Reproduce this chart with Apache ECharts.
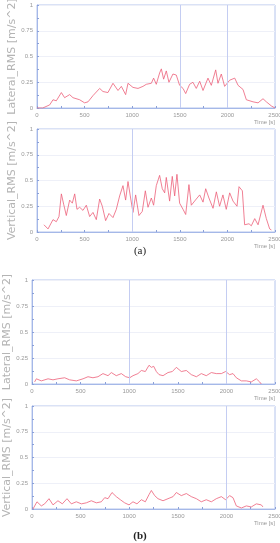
<!DOCTYPE html>
<html>
<head>
<meta charset="utf-8">
<script src="https://cdn.jsdelivr.net/npm/echarts@6/dist/echarts.min.js"></script>
<style>
    html, body { margin: 0; padding: 0; background: #fff; }
    #main { width: 280px; height: 543px; }
</style>
</head>
<body>
<div id="main"></div>
<script>
// x tick labels and y tick values
var xTicks = [0, 500, 1000, 1500, 2000, 2500];
var yTicks = [0, 0.25, 0.5, 0.75, 1];

// (a) lateral
var latA_t = [0, 60, 80, 133, 168, 203, 256, 290, 343, 378, 448, 500, 536, 588, 658, 693, 745, 798, 851, 886, 931, 956, 1008, 1061, 1113, 1148, 1201, 1225, 1253, 1288, 1306, 1330, 1358, 1386, 1428, 1463, 1498, 1534, 1562, 1603, 1638, 1673, 1709, 1744, 1796, 1831, 1877, 1901, 1936, 1971, 2024, 2077, 2112, 2164, 2199, 2269, 2322, 2374, 2409, 2462, 2500];
var latA_v = [0, 0, 0.01, 0.03, 0.08, 0.07, 0.15, 0.10, 0.13, 0.10, 0.08, 0.05, 0.06, 0.12, 0.19, 0.16, 0.15, 0.24, 0.17, 0.21, 0.13, 0.24, 0.20, 0.19, 0.21, 0.23, 0.24, 0.29, 0.23, 0.34, 0.38, 0.28, 0.36, 0.25, 0.33, 0.32, 0.22, 0.19, 0.14, 0.23, 0.25, 0.19, 0.26, 0.17, 0.29, 0.22, 0.37, 0.24, 0.33, 0.21, 0.27, 0.29, 0.22, 0.18, 0.08, 0.06, 0.05, 0.09, 0.06, 0.02, 0.00];

// (a) vertical
var verA_t = [73, 116, 168, 203, 231, 256, 280, 308, 343, 371, 396, 420, 448, 483, 518, 553, 588, 623, 658, 686, 721, 756, 798, 833, 868, 903, 931, 956, 980, 1008, 1036, 1071, 1106, 1138, 1166, 1201, 1225, 1253, 1288, 1316, 1341, 1358, 1393, 1421, 1446, 1470, 1498, 1534, 1562, 1596, 1621, 1673, 1709, 1744, 1772, 1806, 1849, 1884, 1918, 1953, 1988, 2024, 2059, 2101, 2122, 2157, 2181, 2227, 2251, 2287, 2322, 2374, 2409, 2444, 2462];
var verA_v = [0.07, 0.03, 0.12, 0.10, 0.15, 0.37, 0.27, 0.16, 0.31, 0.28, 0.37, 0.22, 0.24, 0.21, 0.26, 0.15, 0.19, 0.12, 0.32, 0.25, 0.11, 0.18, 0.14, 0.22, 0.35, 0.45, 0.31, 0.49, 0.35, 0.19, 0.36, 0.16, 0.20, 0.40, 0.24, 0.33, 0.26, 0.45, 0.55, 0.42, 0.38, 0.53, 0.30, 0.54, 0.35, 0.56, 0.28, 0.22, 0.17, 0.46, 0.26, 0.32, 0.36, 0.29, 0.42, 0.33, 0.23, 0.39, 0.25, 0.36, 0.22, 0.38, 0.30, 0.25, 0.44, 0.40, 0.07, 0.08, 0.06, 0.13, 0.07, 0.26, 0.13, 0.03, 0.02];

// (b) lateral
var latB_t = [27, 45, 96, 165, 216, 267, 336, 387, 456, 525, 576, 627, 679, 730, 782, 816, 867, 919, 964, 1005, 1039, 1090, 1125, 1166, 1204, 1228, 1252, 1279, 1307, 1348, 1399, 1444, 1485, 1536, 1588, 1639, 1691, 1742, 1793, 1845, 1896, 1948, 1992, 2033, 2068, 2102, 2154, 2205, 2256, 2308, 2342, 2359];
var latB_v = [0.02, 0.05, 0.03, 0.05, 0.04, 0.05, 0.06, 0.04, 0.03, 0.05, 0.07, 0.06, 0.07, 0.10, 0.08, 0.11, 0.08, 0.10, 0.07, 0.06, 0.08, 0.10, 0.13, 0.12, 0.18, 0.16, 0.17, 0.12, 0.09, 0.08, 0.11, 0.12, 0.16, 0.12, 0.13, 0.09, 0.07, 0.10, 0.08, 0.11, 0.10, 0.10, 0.12, 0.09, 0.10, 0.06, 0.03, 0.03, 0.02, 0.05, 0.02, 0.00];

// (b) vertical
var verB_t = [10, 51, 96, 130, 175, 216, 267, 312, 360, 405, 456, 508, 559, 610, 662, 713, 748, 782, 823, 867, 909, 953, 998, 1039, 1080, 1125, 1166, 1204, 1228, 1262, 1296, 1348, 1399, 1451, 1485, 1536, 1588, 1639, 1691, 1742, 1793, 1845, 1896, 1948, 1992, 2033, 2068, 2102, 2154, 2205, 2256, 2308, 2359, 2376];
var verB_v = [0.00, 0.07, 0.03, 0.05, 0.10, 0.04, 0.08, 0.05, 0.10, 0.05, 0.07, 0.05, 0.06, 0.08, 0.06, 0.07, 0.11, 0.10, 0.16, 0.12, 0.09, 0.06, 0.04, 0.07, 0.05, 0.09, 0.07, 0.14, 0.18, 0.13, 0.10, 0.08, 0.10, 0.12, 0.16, 0.13, 0.15, 0.12, 0.10, 0.07, 0.09, 0.07, 0.10, 0.12, 0.09, 0.13, 0.11, 0.03, 0.01, 0.03, 0.02, 0.05, 0.04, 0.02];

// blue vertical reference lines seen in each panel
var vLines = [[1500, 2000], [1000], [1000, 2000], [2000]];

var panels = [
    { name: 'Lateral_RMS [m/s^2]',  t: latA_t, v: latA_v, grid: { left: 37, top: 5,   width: 238, height: 103 } },
    { name: 'Vertical_RMS [m/s^2]', t: verA_t, v: verA_v, grid: { left: 37, top: 129, width: 238, height: 103 } },
    { name: 'Lateral_RMS [m/s^2]',  t: latB_t, v: latB_v, grid: { left: 32, top: 280, width: 243, height: 104 } },
    { name: 'Vertical_RMS [m/s^2]', t: verB_t, v: verB_v, grid: { left: 32, top: 406, width: 243, height: 103 } }
];

function pairs(t, v) {
    var out = [];
    for (var i = 0; i < t.length; i++) out.push([t[i], v[i]]);
    return out;
}

var grids = [], xAxes = [], yAxes = [], series = [];
panels.forEach(function (p, i) {
    grids.push(Object.assign({
        show: true, borderColor: '#b4c4ec', borderWidth: 1,
        containLabel: false, outerBoundsMode: 'none'
    }, p.grid));
    xAxes.push({
        type: 'value', gridIndex: i,
        min: xTicks[0], max: xTicks[xTicks.length - 1], interval: 500,
        name: 'Time [s]', nameLocation: 'end', nameGap: 0, nameMoveOverlap: false,
        nameTextStyle: { color: '#999', fontSize: 6, align: 'right', verticalAlign: 'top', padding: [11, 0, 0, 0] },
        axisLine: { lineStyle: { color: '#a5b8e8' } },
        axisTick: { inside: true, length: 2, lineStyle: { color: '#8aa0d8' } },
        minorTick: { show: true, splitNumber: 2, length: 2, lineStyle: { color: '#8aa0d8' } },
        axisLabel: { color: '#999', fontSize: 6, margin: 4, formatter: function (v) { return String(v); } },
        splitLine: { show: false }
    });
    yAxes.push({
        type: 'value', gridIndex: i,
        min: yTicks[0], max: yTicks[yTicks.length - 1], interval: 0.25,
        name: p.name, nameLocation: 'middle', nameGap: 19, nameMoveOverlap: false,
        nameTextStyle: { color: '#b4b4b4', fontSize: 11, fontFamily: 'DejaVu Sans' },
        axisLine: { show: true, lineStyle: { color: '#a5b8e8' } },
        axisTick: { show: true, inside: true, length: 2, lineStyle: { color: '#8aa0d8' } },
        minorTick: { show: true, splitNumber: 2, length: 2, lineStyle: { color: '#8aa0d8' } },
        axisLabel: { color: '#999', fontSize: 6, margin: 4, formatter: function (v) { return String(v); } },
        splitLine: { show: true, lineStyle: { color: '#eef0f8', width: 1 } }
    });
    series.push({
        type: 'line', xAxisIndex: i, yAxisIndex: i,
        data: pairs(p.t, p.v),
        showSymbol: false, animation: false,
        lineStyle: { color: '#ec6078', width: 0.8 },
        markLine: {
            silent: true, symbol: 'none', label: { show: false },
            lineStyle: { color: '#c4cdf2', type: 'solid', width: 1 },
            data: vLines[i].map(function (x) { return { xAxis: x }; })
        }
    });
});

var chart = echarts.init(document.getElementById('main'));
chart.setOption({
    animation: false,
    title: [
        { text: '(a)', left: 'center', top: 241, textStyle: { fontFamily: 'Liberation Serif', fontSize: 11, fontWeight: 'normal', color: '#222' } },
        { text: '(b)', left: 'center', top: 526, textStyle: { fontFamily: 'Liberation Serif', fontSize: 11, fontWeight: 'bold', color: '#222' } }
    ],
    grid: grids,
    xAxis: xAxes,
    yAxis: yAxes,
    series: series
});
</script>
</body>
</html>
